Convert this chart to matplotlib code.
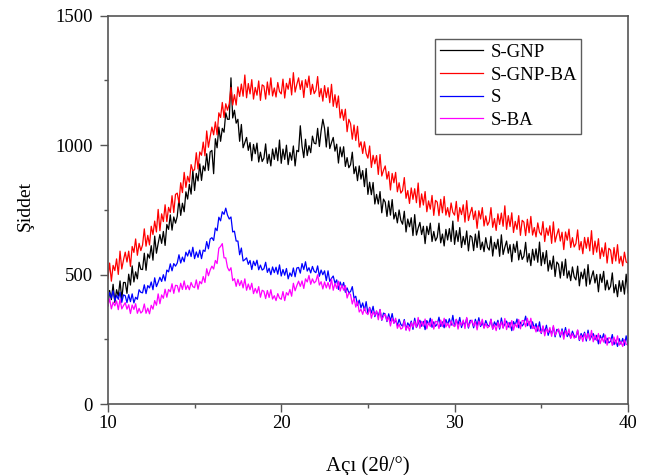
import numpy as np
import matplotlib
matplotlib.use("Agg")
import matplotlib.pyplot as plt
from matplotlib.ticker import MultipleLocator

plt.rcParams['font.family'] = ['Liberation Serif', 'DejaVu Serif']

# scan angles, 2-theta in 0.1 degree steps
angle = np.round(np.arange(10.0, 40.0001, 0.1), 1)

# intensities, one row per degree
s_gnp = [
    380, 439, 404, 463, 393, 442, 417, 476, 406, 470,
    470, 428, 502, 460, 534, 472, 511, 484, 548, 521,
    520, 583, 517, 580, 564, 612, 556, 649, 583, 621,
    655, 621, 667, 613, 694, 675, 731, 672, 723, 699,
    725, 792, 729, 776, 743, 820, 792, 849, 811, 903,
    825, 891, 862, 928, 864, 920, 901, 967, 903, 974,
    980, 890, 1025, 990, 1070, 1015, 1065, 1050, 1125, 1100,
    1100, 1260, 1105, 1135, 1085, 1100, 1015, 1080, 990, 1010,
    1030, 980, 1010, 940, 1003, 967, 1008, 935, 973, 937,
    950, 1005, 930, 965, 920, 985, 945, 990, 940, 1020,
    930, 985, 945, 1000, 925, 972, 942, 997, 920, 980,
    975, 1075, 997, 952, 1023, 960, 998, 971, 1035, 1008,
    1005, 1065, 995, 1055, 1100, 1065, 993, 1070, 987, 1010,
    1030, 977, 1004, 931, 993, 955, 994, 918, 952, 913,
    925, 973, 890, 917, 863, 920, 869, 902, 840, 910,
    810, 857, 809, 856, 773, 810, 773, 821, 739, 792,
    780, 725, 785, 730, 790, 715, 740, 700, 750, 710,
    695, 745, 665, 715, 685, 720, 651, 732, 653, 680,
    702, 655, 687, 620, 687, 655, 699, 628, 667, 631,
    645, 699, 623, 657, 611, 675, 634, 678, 628, 707,
    617, 670, 628, 682, 605, 648, 616, 669, 592, 651,
    645, 593, 657, 605, 669, 597, 626, 589, 643, 606,
    595, 648, 572, 625, 599, 637, 571, 654, 578, 606,
    630, 583, 616, 550, 618, 586, 629, 557, 595, 559,
    572, 625, 549, 582, 535, 598, 556, 600, 548, 626,
    535, 586, 542, 593, 514, 555, 521, 572, 493, 549,
    540, 487, 550, 497, 560, 487, 515, 477, 530, 492,
    480, 533, 457, 510, 484, 522, 456, 539, 463, 491,
    515, 468, 501, 434, 502, 470, 513, 441, 479, 442,
    455, 507, 430, 462, 415, 477, 435, 477, 425, 502,
    430,
]

s_gnp_ba = [
    485, 545, 475, 536, 516, 561, 501, 591, 522, 557,
    587, 549, 591, 532, 609, 586, 638, 575, 621, 593,
    615, 677, 610, 652, 615, 687, 655, 707, 665, 752,
    670, 735, 705, 770, 705, 760, 740, 805, 740, 810,
    815, 777, 855, 817, 895, 837, 880, 857, 925, 902,
    905, 971, 908, 974, 961, 1012, 959, 1055, 992, 1033,
    1070, 1040, 1090, 1040, 1125, 1107, 1165, 1107, 1160, 1135,
    1160, 1223, 1155, 1195, 1155, 1225, 1188, 1236, 1189, 1271,
    1183, 1238, 1198, 1253, 1178, 1223, 1193, 1248, 1173, 1233,
    1228, 1178, 1244, 1194, 1260, 1190, 1221, 1186, 1242, 1207,
    1198, 1255, 1182, 1239, 1216, 1258, 1194, 1280, 1205, 1235,
    1260, 1215, 1249, 1184, 1253, 1223, 1267, 1196, 1235, 1199,
    1212, 1265, 1187, 1219, 1170, 1230, 1184, 1222, 1164, 1235,
    1150, 1195, 1145, 1190, 1105, 1138, 1096, 1139, 1052, 1100,
    1083, 1023, 1078, 1018, 1073, 993, 1013, 968, 1013, 968,
    950, 997, 914, 961, 928, 960, 887, 964, 881, 903,
    920, 869, 898, 827, 891, 855, 895, 820, 855, 815,
    825, 875, 795, 825, 775, 835, 791, 832, 778, 854,
    760, 812, 769, 821, 743, 785, 753, 806, 729, 787,
    780, 728, 791, 739, 802, 730, 759, 723, 777, 741,
    730, 783, 706, 759, 732, 770, 703, 786, 709, 737,
    760, 713, 746, 679, 747, 715, 759, 688, 727, 691,
    705, 759, 683, 717, 671, 735, 694, 738, 687, 766,
    675, 728, 686, 739, 663, 706, 675, 728, 652, 710,
    703, 651, 714, 662, 725, 653, 682, 646, 700, 664,
    653, 705, 628, 680, 652, 689, 621, 704, 626, 654,
    677, 630, 664, 597, 665, 633, 676, 605, 643, 607,
    620, 673, 596, 628, 581, 644, 602, 644, 592, 670,
    578, 630, 587, 639, 562, 604, 571, 623, 545, 602,
    595, 543, 605, 553, 616, 544, 571, 534, 587, 549,
    545,
]

s_plain = [
    405, 431, 410, 438, 399, 421, 405, 432, 393, 422,
    419, 392, 423, 396, 426, 391, 413, 405, 442, 432,
    430, 461, 427, 458, 449, 472, 442, 488, 454, 471,
    490, 474, 500, 476, 518, 511, 542, 515, 543, 533,
    545, 577, 545, 568, 550, 587, 572, 595, 570, 606,
    562, 588, 567, 595, 562, 595, 590, 628, 600, 638,
    643, 632, 680, 670, 722, 708, 743, 733, 757, 730,
    715, 723, 665, 668, 630, 630, 577, 603, 553, 558,
    565, 540, 555, 520, 552, 535, 556, 519, 537, 518,
    523, 548, 509, 525, 500, 530, 508, 529, 502, 538,
    495, 520, 498, 524, 484, 507, 494, 526, 492, 526,
    528, 506, 543, 520, 550, 514, 527, 507, 532, 513,
    508, 534, 494, 518, 500, 515, 477, 515, 474, 486,
    495, 467, 480, 443, 472, 452, 470, 432, 449, 430,
    435, 454, 409, 417, 382, 402, 372, 391, 362, 396,
    350, 374, 352, 378, 338, 358, 340, 365, 324, 352,
    348, 319, 349, 321, 350, 313, 325, 304, 328, 308,
    301, 327, 287, 314, 301, 321, 289, 332, 296, 311,
    324, 301, 320, 288, 323, 308, 332, 297, 318, 301,
    309, 336, 300, 318, 295, 327, 307, 330, 305, 343,
    300, 327, 307, 335, 296, 319, 304, 332, 294, 324,
    321, 295, 328, 303, 334, 300, 315, 296, 323, 306,
    301, 328, 290, 318, 304, 324, 290, 333, 296, 310,
    321, 298, 316, 284, 319, 305, 329, 295, 317, 302,
    311, 340, 303, 319, 292, 318, 292, 311, 282, 318,
    273, 299, 278, 305, 266, 288, 272, 299, 260, 289,
    286, 259, 291, 265, 296, 261, 275, 256, 282, 264,
    258, 285, 246, 273, 259, 278, 244, 286, 248, 262,
    273, 249, 266, 233, 266, 250, 272, 236, 255, 237,
    243, 269, 230, 247, 223, 253, 232, 254, 227, 264,
    228,
]

s_ba = [
    380, 407, 368, 394, 380, 399, 365, 406, 368, 381,
    392, 367, 384, 350, 383, 366, 388, 351, 370, 352,
    359, 387, 351, 371, 349, 382, 367, 400, 382, 426,
    388, 422, 409, 444, 413, 443, 434, 465, 428, 459,
    458, 433, 467, 443, 476, 443, 459, 442, 470, 454,
    450, 480, 444, 474, 465, 493, 470, 523, 496, 518,
    533, 522, 555, 543, 602, 609, 620, 565, 565, 528,
    515, 527, 477, 485, 455, 482, 458, 477, 449, 484,
    440, 464, 442, 467, 427, 447, 429, 454, 413, 440,
    436, 408, 439, 412, 442, 406, 419, 400, 427, 410,
    405, 435, 400, 431, 421, 443, 417, 467, 438, 458,
    475, 455, 476, 447, 484, 472, 497, 463, 484, 468,
    475, 500, 460, 473, 445, 472, 449, 470, 445, 483,
    440, 467, 447, 475, 437, 460, 440, 458, 410, 430,
    423, 387, 410, 375, 397, 356, 367, 347, 372, 353,
    346, 372, 332, 358, 343, 361, 326, 366, 326, 339,
    348, 322, 337, 302, 332, 313, 332, 293, 309, 290,
    295, 322, 286, 305, 283, 316, 297, 321, 297, 335,
    293, 320, 301, 329, 291, 315, 300, 328, 290, 320,
    318, 292, 325, 300, 332, 298, 313, 295, 322, 305,
    300, 328, 290, 318, 305, 325, 292, 335, 298, 313,
    325, 302, 319, 287, 321, 305, 328, 293, 312, 295,
    301, 328, 290, 308, 284, 316, 295, 318, 293, 331,
    288, 315, 295, 323, 286, 310, 297, 327, 291, 323,
    323, 299, 332, 304, 332, 292, 301, 279, 302, 283,
    276, 303, 264, 291, 277, 296, 262, 304, 266, 280,
    291, 267, 284, 251, 284, 268, 290, 254, 273, 255,
    261, 287, 249, 266, 242, 273, 252, 274, 248, 285,
    241, 267, 246, 273, 234, 256, 240, 267, 228, 257,
    254, 227, 259, 233, 264, 228, 242, 223, 249, 231,
    230,
]

series = [
    ("S-GNP", s_gnp, "black"),
    ("S-GNP-BA", s_gnp_ba, "red"),
    ("S", s_plain, "blue"),
    ("S-BA", s_ba, "magenta"),
]

fig = plt.figure(figsize=(6.5, 4.75), dpi=100)
ax = fig.add_axes([0.166, 0.149, 0.800, 0.818])

for name, vals, col in series:
    ax.plot(angle, vals, color=col, lw=0.9, label=name)

ax.set_xlim(10, 40)
ax.set_ylim(0, 1500)
ax.xaxis.set_major_locator(MultipleLocator(10))
ax.xaxis.set_minor_locator(MultipleLocator(5))
ax.yaxis.set_major_locator(MultipleLocator(500))
ax.yaxis.set_minor_locator(MultipleLocator(250))
ax.tick_params(which='both', direction='out', top=False, right=False,
               color='#555555', width=1.0, labelsize=13.5)
ax.tick_params(which='major', length=6)
ax.tick_params(which='minor', length=3)
ax.tick_params(axis='y', pad=5)
ax.tick_params(axis='x', pad=2)
for sp in ax.spines.values():
    sp.set_color('#555555')
    sp.set_linewidth(1.2)

ax.set_xlabel("Açı (2θ/°)", fontsize=15, labelpad=17)
ax.set_ylabel("Şiddet", fontsize=14)
ax.yaxis.set_label_coords(-0.143, 0.51)

leg = ax.legend(loc='upper left', bbox_to_anchor=(0.629, 0.94), fontsize=13.5,
                frameon=True, fancybox=False, handlelength=2.3,
                borderpad=0.25, labelspacing=0.3, handletextpad=0.4,
                borderaxespad=0)
leg.get_frame().set_edgecolor('#333333')
leg.get_frame().set_linewidth(1.0)

fig.savefig("out.png", dpi=100)
